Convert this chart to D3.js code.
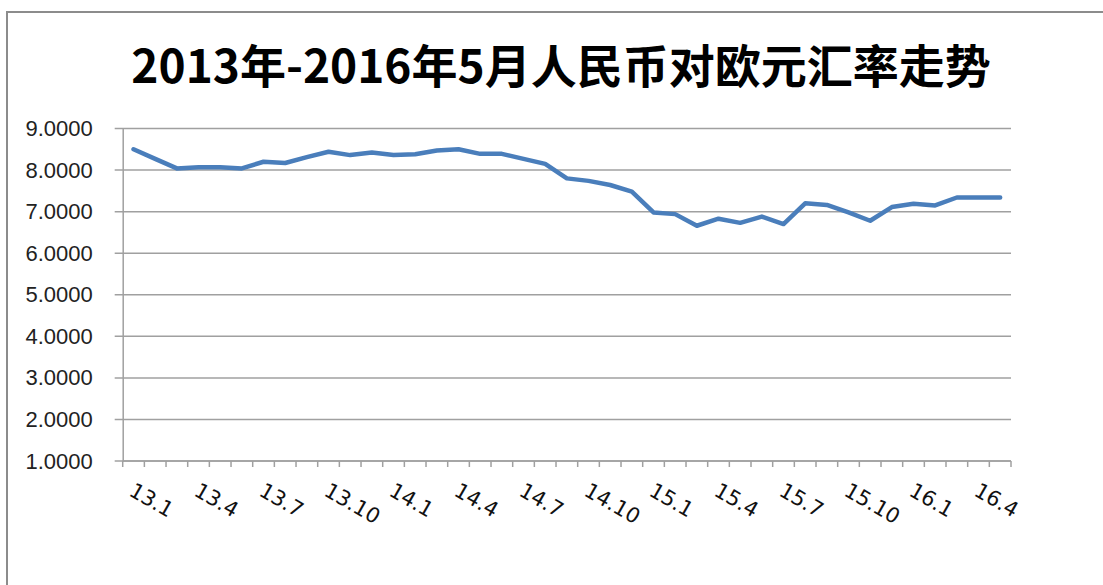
<!DOCTYPE html>
<html>
<head>
<meta charset="utf-8">
<script src="https://cdn.jsdelivr.net/npm/d3@7"></script>
<style>
  body { margin: 0; background: #fff; }
  svg { display: block; }
</style>
</head>
<body>
<script>
// Data
const months = [
    "13.1", "13.2", "13.3", "13.4", "13.5", "13.6", "13.7", "13.8", "13.9", "13.10", "13.11", "13.12",
    "14.1", "14.2", "14.3", "14.4", "14.5", "14.6", "14.7", "14.8", "14.9", "14.10", "14.11", "14.12",
    "15.1", "15.2", "15.3", "15.4", "15.5", "15.6", "15.7", "15.8", "15.9", "15.10", "15.11", "15.12",
    "16.1", "16.2", "16.3", "16.4", "16.5"
];

const rates = [
    8.50, 8.27, 8.04, 8.07, 8.07, 8.04, 8.20, 8.17, 8.31, 8.44, 8.36, 8.42,
    8.36, 8.38, 8.47, 8.50, 8.39, 8.39, 8.27, 8.15, 7.80, 7.74, 7.64, 7.48,
    6.98, 6.94, 6.66, 6.83, 6.73, 6.88, 6.70, 7.20, 7.16, 6.98, 6.78, 7.11,
    7.19, 7.15, 7.34, 7.34, 7.34
];

const yTicks = [1, 2, 3, 4, 5, 6, 7, 8, 9];
const tickLabels = ["13.1", "13.4", "13.7", "13.10", "14.1", "14.4", "14.7", "14.10",
                    "15.1", "15.4", "15.7", "15.10", "16.1", "16.4"];

const title = "2013年-2016年5月人民币对欧元汇率走势";

// Dimensions
const width = 1103;
const height = 585;
const plot = { left: 122.7, right: 1011, top: 128.5, bottom: 461 };

const svg = d3.select("body")
    .append("svg")
    .attr("width", width)
    .attr("height", height);

svg.append("rect")
    .attr("width", width)
    .attr("height", height)
    .attr("fill", "#fff");

// Chart frame
svg.append("rect")
    .attr("x", 7)
    .attr("y", 12)
    .attr("width", 1300)
    .attr("height", 800)
    .attr("fill", "none")
    .attr("stroke", "#8c8c8c")
    .attr("stroke-width", 2);

// Title
svg.append("text")
    .attr("x", 561)
    .attr("y", 83)
    .attr("text-anchor", "middle")
    .attr("font-family", "'Noto Sans CJK SC', sans-serif")
    .attr("font-weight", "bold")
    .attr("font-size", 46)
    .attr("fill", "#000")
    .text(title);

// Scales
const x = d3.scaleBand()
    .domain(months)
    .range([plot.left, plot.right]);

const y = d3.scaleLinear()
    .domain([1, 9])
    .range([plot.bottom, plot.top]);

// Gridlines
svg.append("g")
    .selectAll("line")
    .data(yTicks)
    .join("line")
    .attr("x1", plot.left - 8)
    .attr("x2", plot.right)
    .attr("y1", d => y(d))
    .attr("y2", d => y(d))
    .attr("stroke", "#a0a0a0")
    .attr("stroke-width", 1.5);

// Y axis
const yAxis = svg.append("g")
    .attr("transform", `translate(${plot.left},0)`)
    .call(d3.axisLeft(y).tickValues(yTicks).tickFormat(d3.format(".4f")).tickSize(0).tickPadding(30));

yAxis.select(".domain").attr("stroke", "#a0a0a0").attr("stroke-width", 1.5);
yAxis.selectAll("text")
    .attr("font-family", "'Liberation Sans', Arial, sans-serif")
    .attr("font-size", 22)
    .attr("fill", "#222");

// X axis line and ticks at category boundaries
const xAxis = svg.append("g");
xAxis.append("line")
    .attr("x1", plot.left)
    .attr("x2", plot.right)
    .attr("y1", plot.bottom)
    .attr("y2", plot.bottom)
    .attr("stroke", "#a0a0a0")
    .attr("stroke-width", 1.5);

xAxis.selectAll("line.tick")
    .data(months.map(m => x(m)).concat([plot.right]))
    .join("line")
    .attr("class", "tick")
    .attr("x1", d => d)
    .attr("x2", d => d)
    .attr("y1", plot.bottom)
    .attr("y2", plot.bottom + 6)
    .attr("stroke", "#a0a0a0")
    .attr("stroke-width", 1.5);

// Rotated category labels
xAxis.selectAll("text")
    .data(tickLabels)
    .join("text")
    .attr("transform", d => `translate(${x(d) + x.bandwidth() / 2 + 2},481) rotate(30)`)
    .attr("dy", "0.75em")
    .attr("text-anchor", "start")
    .attr("font-family", "'DejaVu Sans', Verdana, sans-serif")
    .attr("font-size", 21)
    .attr("fill", "#111")
    .text(d => d);

// Line
const line = d3.line()
    .x((d, i) => x(months[i]) + x.bandwidth() / 2)
    .y(d => y(d));

svg.append("path")
    .datum(rates)
    .attr("fill", "none")
    .attr("stroke", "#4a7ebb")
    .attr("stroke-width", 4.5)
    .attr("stroke-linejoin", "round")
    .attr("stroke-linecap", "round")
    .attr("d", line);
</script>
</body>
</html>
